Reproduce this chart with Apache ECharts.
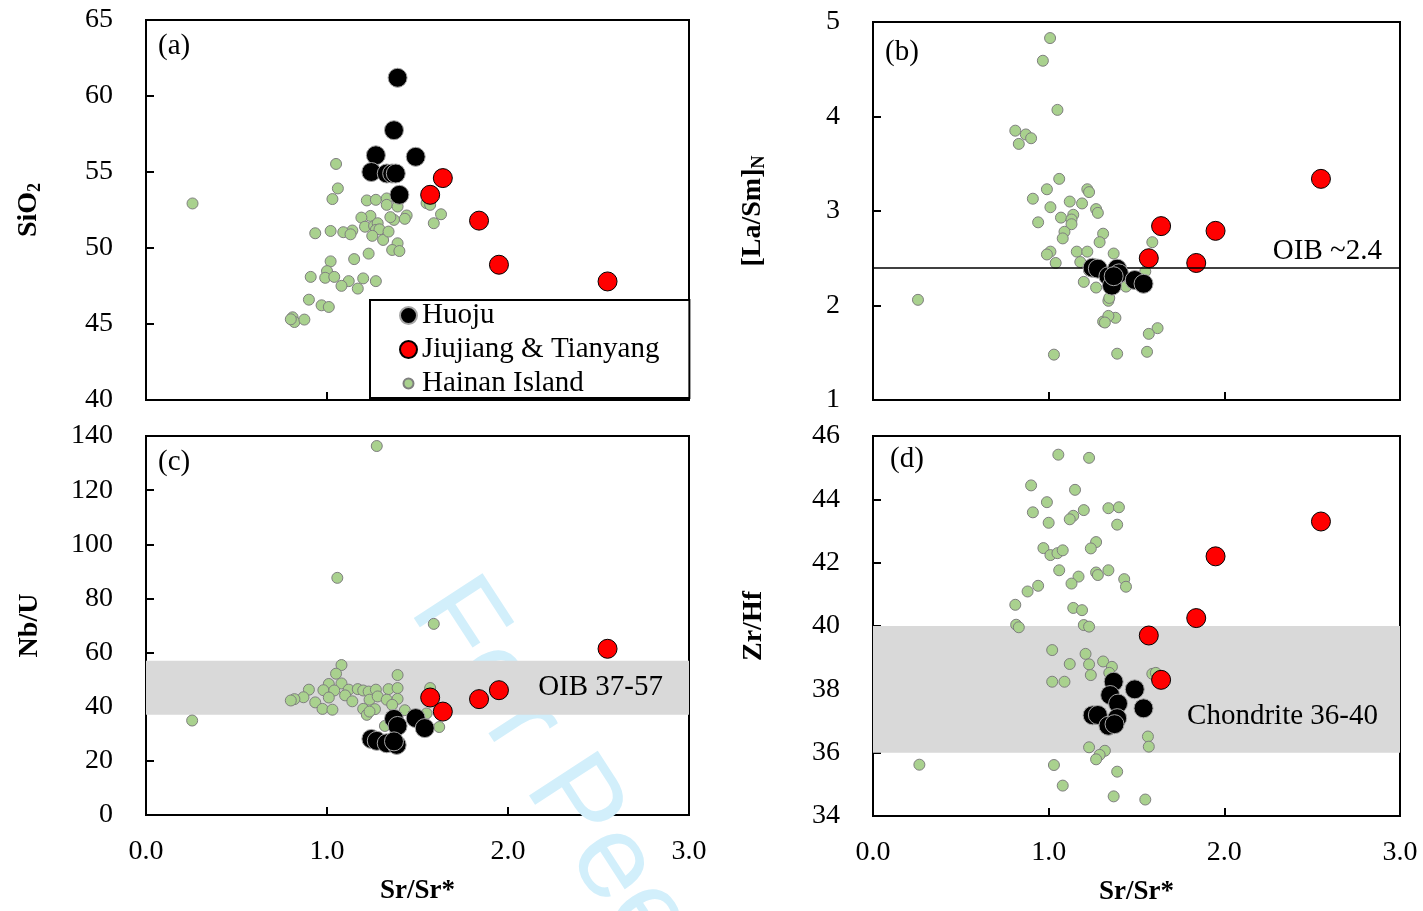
<!DOCTYPE html>
<html><head><meta charset="utf-8">
<script src="https://cdn.jsdelivr.net/npm/echarts@6/dist/echarts.min.js"></script>
<style>html,body{margin:0;padding:0;background:#fff}#c{width:1423px;height:911px}</style>
</head><body><div id="c"></div>
<script>
// ---------- DATA ----------
const panelLabels = ['(a)', '(b)', '(c)', '(d)'];
const seriesNames = ['Huoju', 'Jiujiang & Tianyang', 'Hainan Island'];

// Jiujiang & Tianyang (shared Sr/Sr*)
const jiujiangSr   = [1.57, 1.64, 1.84, 1.95, 2.55];
const jiujiangSiO2 = [53.5, 54.6, 51.8, 48.9, 47.8];
const jiujiangLaSm = [2.50, 2.84, 2.45, 2.79, 3.34];
const jiujiangNbU  = [43.4, 38.2, 42.8, 46.1, 61.4];
const jiujiangZrHf = [39.7, 38.3, 40.25, 42.2, 43.3];

// Huoju [Sr/Sr*, value]
const huojuSiO2 = [[1.39,61.2],[1.37,57.75],[1.27,56.1],[1.49,56.0],[1.245,55.0],[1.33,54.9],[1.36,54.9],[1.38,54.9],[1.40,53.5]];
const huojuLaSm = [[1.25,2.40],[1.28,2.39],[1.34,2.31],[1.36,2.21],[1.39,2.39],[1.40,2.34],[1.37,2.31],[1.49,2.27],[1.54,2.23]];
const huojuNbU  = [[1.37,35.5],[1.49,35.8],[1.39,32.9],[1.54,32.1],[1.245,28.1],[1.275,27.4],[1.33,26.5],[1.385,25.9],[1.37,27.2]];
const huojuZrHf = [[1.37,38.24],[1.49,38.0],[1.35,37.82],[1.395,37.55],[1.54,37.40],[1.25,37.18],[1.28,37.19],[1.39,37.09],[1.34,36.85],[1.375,36.9]];

// Hainan Island [Sr/Sr*, value]
const hainanSiO2 = [[0.257,52.93],[1.05,55.53],[1.06,53.92],[1.03,53.22],[1.22,53.13],[1.27,53.17],[1.33,53.26],[1.33,52.84],[1.39,53.17],[1.39,52.73],
  [1.55,52.95],[1.57,52.84],[1.63,52.22],[1.59,51.63],[1.44,52.14],[1.43,51.92],[1.37,51.85],[1.35,52.03],[1.24,52.11],[1.19,52.0],
  [1.21,51.4],[1.26,51.45],[1.28,51.63],[1.27,51.19],[1.29,51.23],[1.25,50.8],[1.31,50.53],[1.34,51.08],[1.39,50.31],[1.36,49.87],
  [1.40,49.8],[1.14,51.15],[1.09,51.04],[1.02,51.12],[0.935,50.97],[1.13,50.9],[1.23,49.63],[1.15,49.27],[1.02,49.12],[1.00,48.48],
  [0.91,48.1],[0.99,48.04],[1.04,48.1],[1.12,47.82],[1.20,48.0],[1.27,47.82],[1.08,47.51],[1.17,47.33],[0.90,46.6],[0.97,46.23],
  [1.01,46.12],[0.81,45.44],[0.82,45.13],[0.875,45.29],[0.80,45.31]];
const hainanLaSm = [[1.008,4.83],[0.967,4.59],[1.05,4.07],[0.81,3.85],[0.87,3.81],[0.90,3.77],[0.83,3.71],[1.06,3.34],[0.99,3.23],[1.22,3.23],
  [1.23,3.20],[0.91,3.13],[1.12,3.10],[1.19,3.08],[1.01,3.04],[1.27,3.02],[1.28,2.98],[1.14,2.96],[1.07,2.93],[1.13,2.91],
  [1.13,2.86],[0.94,2.88],[1.09,2.78],[1.31,2.76],[1.08,2.71],[1.29,2.67],[1.59,2.67],[1.01,2.57],[0.99,2.54],[1.16,2.57],
  [1.22,2.57],[1.37,2.55],[1.04,2.45],[1.18,2.46],[1.23,2.37],[1.20,2.25],[1.27,2.19],[1.44,2.20],[1.55,2.36],[1.34,2.05],
  [1.345,2.08],[1.31,1.83],[1.38,1.87],[1.34,1.89],[1.32,1.82],[1.62,1.76],[1.57,1.70],[1.03,1.48],[1.39,1.49],[1.56,1.51],[0.256,2.06]];
const hainanNbU = [[1.275,136.3],[1.057,87.6],[1.59,70.6],[0.255,34.9],[1.08,55.4],[1.05,52.2],[1.39,51.7],[1.01,48.4],[1.08,48.6],[0.90,46.3],
  [0.98,46.1],[1.04,46.0],[1.12,46.3],[1.17,46.5],[1.20,46.0],[1.23,45.6],[1.27,46.3],[1.34,46.5],[1.39,46.9],[1.57,46.9],
  [0.87,43.5],[0.82,42.8],[0.80,42.3],[1.01,43.4],[1.10,44.2],[1.14,42.0],[1.235,42.6],[1.28,43.8],[1.33,42.6],[1.39,42.9],
  [0.935,41.6],[0.975,39.2],[1.03,38.9],[1.20,39.2],[1.265,39.1],[1.22,37.0],[1.36,40.7],[1.43,38.7],[1.55,37.5],[1.32,32.9],
  [1.62,32.5],[1.235,38.2]];
const hainanZrHf = [[1.055,45.41],[1.23,45.31],[0.90,44.44],[1.15,44.30],[0.99,43.91],[0.91,43.59],[1.14,43.48],[1.12,43.37],[1.20,43.66],[1.34,43.72],
  [1.40,43.75],[1.39,43.20],[1.00,43.26],[1.27,42.65],[1.24,42.45],[0.97,42.46],[1.01,42.24],[1.05,42.30],[1.08,42.39],[1.06,41.76],
  [1.17,41.56],[1.13,41.34],[1.27,41.69],[1.28,41.61],[1.34,41.76],[1.43,41.48],[1.44,41.24],[0.94,41.27],[0.88,41.09],[0.81,40.67],
  [0.815,40.04],[0.83,39.96],[1.14,40.57],[1.19,40.50],[1.20,40.03],[1.23,39.98],[1.02,39.24],[1.21,39.12],[1.12,38.80],[1.23,38.79],
  [1.31,38.88],[1.36,38.71],[1.345,38.52],[1.24,38.45],[1.59,38.49],[1.61,38.52],[1.02,38.24],[1.09,38.24],[1.565,36.51],[1.57,36.19],
  [1.23,36.17],[1.32,36.06],[1.29,35.93],[1.27,35.79],[0.264,35.62],[1.03,35.61],[1.39,35.40],[1.08,34.96],[1.37,34.62],[1.55,34.52]];

// Axis settings
const xRange = {min: 0, max: 3, interval: 1};
const yRanges = [
  {min: 40, max: 65, interval: 5},
  {min: 1, max: 5, interval: 1},
  {min: 0, max: 140, interval: 20},
  {min: 34, max: 46, interval: 2}
];
const oibLaSm = 2.4;
const oibNbU = [37, 57];
const chondriteZrHf = [36, 40];

// ---------- CHART ----------
const SERIF = '"Liberation Serif", "Times New Roman", serif';
const grids = [
  {left: 146, top: 20, width: 543, height: 380},
  {left: 873, top: 22, width: 527, height: 378},
  {left: 146, top: 436, width: 543, height: 379},
  {left: 873, top: 436, width: 527, height: 380}
].map(g => Object.assign({show: true, borderColor: '#000', borderWidth: 2, backgroundColor: 'transparent'}, g));

const tick = {show: true, inside: true, length: 8, lineStyle: {color: '#000', width: 2}};
const xAxes = [0,1,2,3].map(i => ({
  gridIndex: i, type: 'value', min: xRange.min, max: xRange.max, interval: xRange.interval,
  axisLine: {show: false}, axisTick: tick, splitLine: {show: false},
  axisLabel: {show: i >= 2, color: '#000', fontFamily: SERIF, fontSize: 28, margin: 23, formatter: v => v.toFixed(1)},
  name: i >= 2 ? 'Sr/Sr*' : '', nameLocation: 'middle', nameGap: 63,
  nameTextStyle: {color: '#000', fontFamily: SERIF, fontSize: 27, fontWeight: 'bold'}
}));
const yNames = ['SiO{s|2}', '[La/Sm]{s|N}', 'Nb/U', 'Zr/Hf'];
const yGaps = [102, 105, 102, 105];
const yAxes = [0,1,2,3].map(i => ({
  gridIndex: i, type: 'value', min: yRanges[i].min, max: yRanges[i].max, interval: yRanges[i].interval,
  axisLine: {show: false}, axisTick: tick, splitLine: {show: false},
  axisLabel: {color: '#000', fontFamily: SERIF, fontSize: 28, margin: 33},
  name: yNames[i], nameLocation: 'middle', nameGap: yGaps[i],
  nameTextStyle: {color: '#000', fontFamily: SERIF, fontSize: 28, fontWeight: 'bold',
    rich: {s: {fontFamily: SERIF, fontSize: 18, fontWeight: 'bold', color: '#000', padding: [13, 0, 0, 0]}}}
}));

const greenStyle = {color: '#a9d18e', borderColor: '#7f7f7f', borderWidth: 1, opacity: 1};
const redStyle = {color: '#ff0000', borderColor: '#000', borderWidth: 1, opacity: 1};
const blackStyle = {color: '#000', borderColor: '#a6a6a6', borderWidth: 1, opacity: 1};

const hainanSets = [hainanSiO2, hainanLaSm, hainanNbU, hainanZrHf];
const huojuSets = [huojuSiO2, huojuLaSm, huojuNbU, huojuZrHf];
const jiujiangSets = [jiujiangSiO2, jiujiangLaSm, jiujiangNbU, jiujiangZrHf];

const labelFont = {color: '#000', fontFamily: SERIF, fontSize: 29};
const series = [];
for (let i = 0; i < 4; i++) {
  const g = {
    name: 'Hainan Island', type: 'scatter', xAxisIndex: i, yAxisIndex: i, symbolSize: 11,
    itemStyle: greenStyle, data: hainanSets[i], z: 3, silent: true
  };
  if (i === 1) {
    g.markLine = {silent: true, symbol: 'none', lineStyle: {color: '#000', width: 1.5, type: 'solid'},
      label: Object.assign({show: true, position: 'insideEndTop', formatter: 'OIB ~2.4', distance: [18, 2]}, labelFont),
      data: [{yAxis: oibLaSm}]};
  }
  if (i === 2) {
    g.markArea = {silent: true, itemStyle: {color: '#d9d9d9'},
      label: Object.assign({show: true, position: 'insideRight', distance: 26}, labelFont),
      data: [[{yAxis: oibNbU[0], name: 'OIB 37-57'}, {yAxis: oibNbU[1]}]]};
  }
  if (i === 3) {
    g.markArea = {silent: true, itemStyle: {color: '#d9d9d9'},
      label: Object.assign({show: true, position: 'insideRight', distance: 22, offset: [0, 27]}, labelFont),
      data: [[{yAxis: chondriteZrHf[0], name: 'Chondrite 36-40'}, {yAxis: chondriteZrHf[1]}]]};
  }
  series.push(g);
  series.push({
    name: 'Jiujiang & Tianyang', type: 'scatter', xAxisIndex: i, yAxisIndex: i, symbolSize: 19,
    itemStyle: redStyle, data: jiujiangSr.map((x, k) => [x, jiujiangSets[i][k]]), z: 4, silent: true
  });
  series.push({
    name: 'Huoju', type: 'scatter', xAxisIndex: i, yAxisIndex: i, symbolSize: 19,
    itemStyle: blackStyle, data: huojuSets[i], z: 5, silent: true
  });
}

const panelPos = [[158, 46], [885, 52], [158, 462], [890, 459]];
const graphics = panelLabels.map((t, i) => ({
  type: 'text', x: panelPos[i][0], y: panelPos[i][1], z: 10,
  style: {text: t, fill: '#000', font: '29px ' + SERIF, align: 'left', verticalAlign: 'middle'}
}));
graphics.push({
  type: 'text', x: 436, y: 592, rotation: -0.995, z: 1, silent: true,
  style: {text: 'For Peer Review', fill: '#d2effb', font: '119px "Liberation Sans", Arial, sans-serif', align: 'left', verticalAlign: 'middle'}
});

const chart = echarts.init(document.getElementById('c'), null, {renderer: 'canvas'});
chart.setOption({
  animation: false,
  backgroundColor: '#fff',
  grid: grids, xAxis: xAxes, yAxis: yAxes, series: series, graphic: graphics,
  legend: {
    show: true, orient: 'vertical', left: 370, top: 300,
    backgroundColor: '#fff', borderColor: '#000', borderWidth: 2, borderRadius: 0,
    padding: [1, 30, 0, 29], itemWidth: 17, itemHeight: 17, itemGap: 5,
    textStyle: {color: '#000', fontFamily: SERIF, fontSize: 29, lineHeight: 28},
    selectedMode: false,
    data: [
      {name: 'Huoju', icon: 'circle'},
      {name: 'Jiujiang & Tianyang', icon: 'circle'},
      {name: 'Hainan Island', icon: 'path://M0,0M17,17M8.5,3.5A5,5,0,1,1,8.49,3.5Z'}
    ]
  }
});
</script></body></html>
